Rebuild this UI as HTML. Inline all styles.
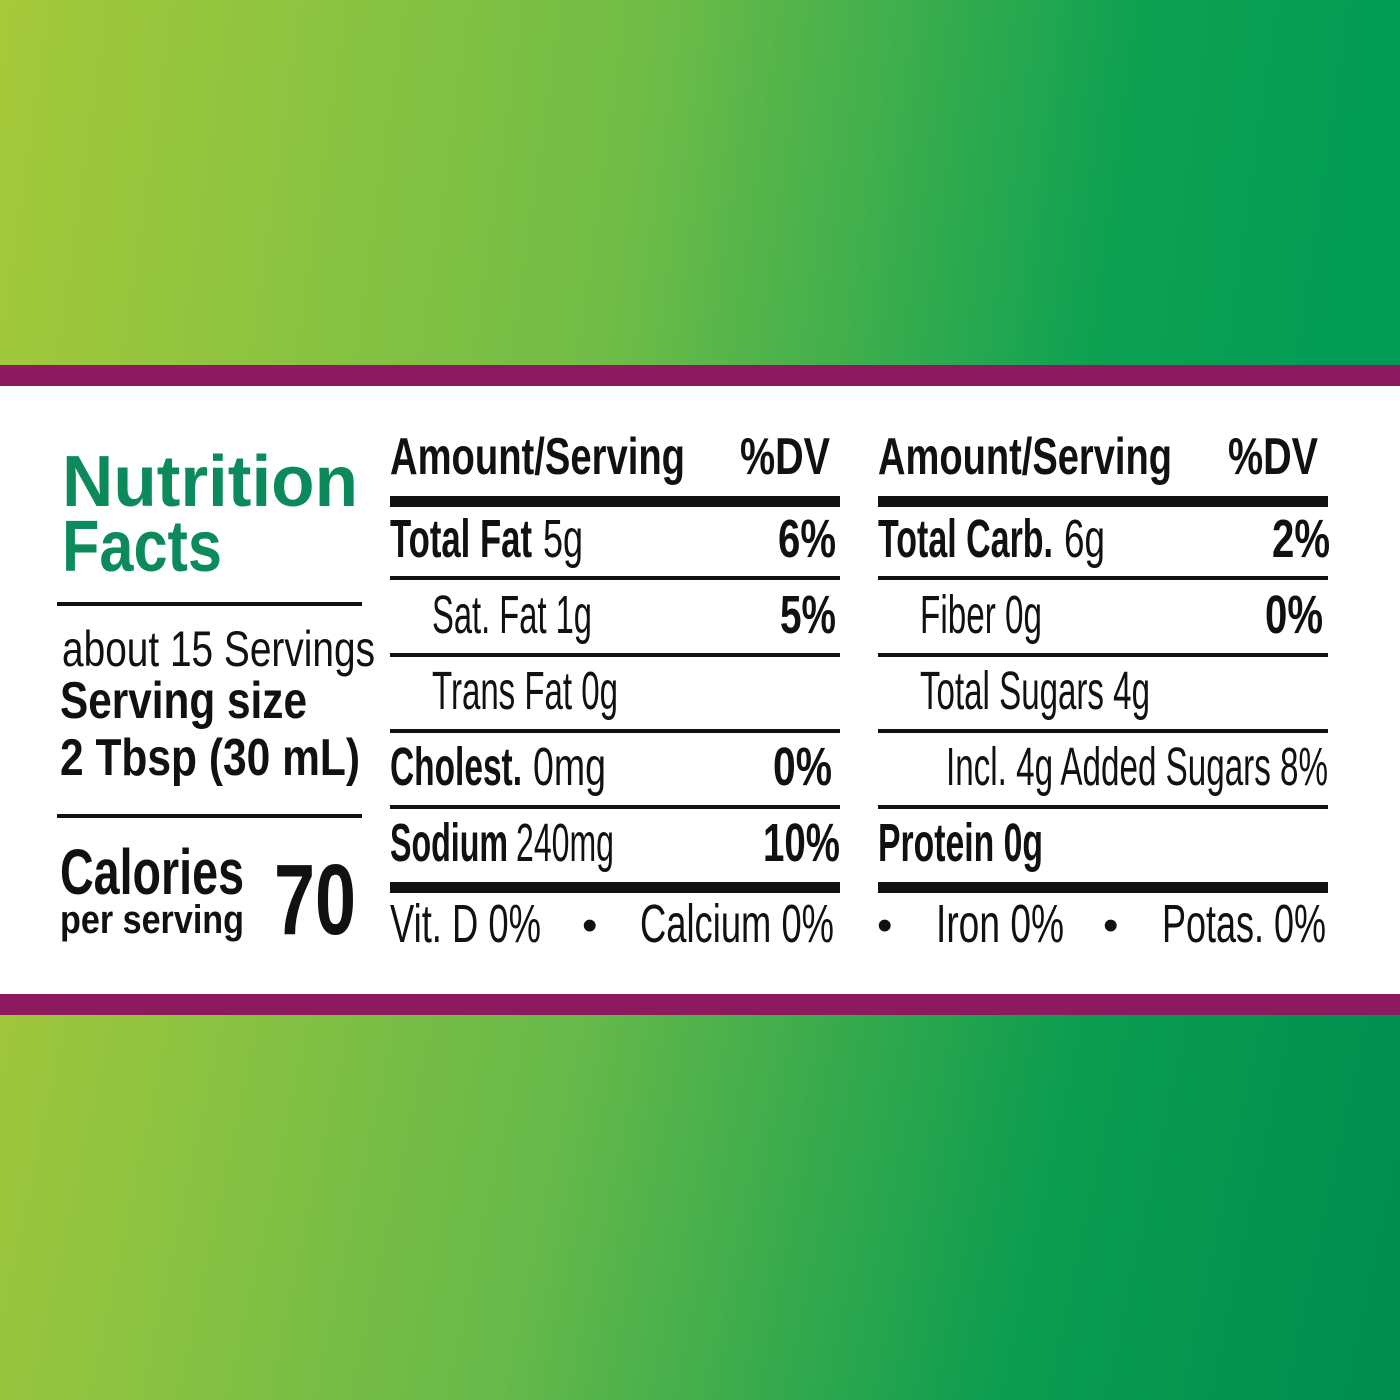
<!DOCTYPE html>
<html><head><meta charset="utf-8"><style>
html,body{margin:0;padding:0;width:1400px;height:1400px;overflow:hidden}
svg{display:block}
text{font-family:"Liberation Sans Narrow","Liberation Sans",sans-serif;fill:#111}
.b{font-weight:bold}
.g{fill:#0d8a5c;font-family:"Liberation Sans",sans-serif;font-weight:bold}
</style></head><body>
<svg width="1400" height="1400" viewBox="0 0 1400 1400" xmlns="http://www.w3.org/2000/svg">
<defs>
<linearGradient id="gt" x1="0" y1="0" x2="1400" y2="200" gradientUnits="userSpaceOnUse">
<stop offset="0" stop-color="#a5c93a"/><stop offset="0.45" stop-color="#72bd47"/><stop offset="0.8" stop-color="#0ea152"/><stop offset="1" stop-color="#009b55"/>
</linearGradient>
<linearGradient id="gb" x1="0" y1="1000" x2="1400" y2="1300" gradientUnits="userSpaceOnUse">
<stop offset="0" stop-color="#a0c73c"/><stop offset="0.4" stop-color="#66b94a"/><stop offset="0.75" stop-color="#0a9c50"/><stop offset="1" stop-color="#008e50"/>
</linearGradient>
</defs>
<rect x="0" y="0" width="1400" height="366" fill="url(#gt)"/>
<rect x="0" y="1014" width="1400" height="386" fill="url(#gb)"/>
<rect x="0" y="365" width="1400" height="21" fill="#8d1a5e"/>
<rect x="0" y="994" width="1400" height="21" fill="#8d1a5e"/>
<rect x="0" y="386" width="1400" height="608" fill="#fff"/>

<text class="g" x="62" y="506" font-size="72" textLength="296" lengthAdjust="spacingAndGlyphs">Nutrition</text>
<text class="g" x="62" y="571" font-size="72" textLength="160" lengthAdjust="spacingAndGlyphs">Facts</text>
<rect x="57" y="602" width="305" height="4" fill="#111"/>
<text x="62" y="666" font-size="50" textLength="313" lengthAdjust="spacingAndGlyphs">about 15 Servings</text>
<text class="b" x="60" y="718" font-size="52" textLength="247" lengthAdjust="spacingAndGlyphs">Serving size</text>
<text class="b" x="60" y="775" font-size="52" textLength="300" lengthAdjust="spacingAndGlyphs">2 Tbsp (30 mL)</text>
<rect x="57" y="814" width="305" height="4" fill="#111"/>
<text class="b" x="60" y="894" font-size="64" textLength="184" lengthAdjust="spacingAndGlyphs">Calories</text>
<text class="b" x="60" y="933" font-size="40" textLength="184" lengthAdjust="spacingAndGlyphs">per serving</text>
<text class="b" x="274" y="934" font-size="100" textLength="82" lengthAdjust="spacingAndGlyphs">70</text>

<!-- middle column -->
<g>
<text class="b" x="390" y="474" font-size="52" textLength="295" lengthAdjust="spacingAndGlyphs">Amount/Serving</text>
<text class="b" x="740" y="474" font-size="52" textLength="90" lengthAdjust="spacingAndGlyphs">%DV</text>
<rect x="390" y="496" width="450" height="11" fill="#111"/>
<text class="b" x="390" y="557" font-size="54" textLength="142" lengthAdjust="spacingAndGlyphs">Total Fat</text>
<text x="543" y="557" font-size="54" textLength="40" lengthAdjust="spacingAndGlyphs">5g</text>
<text class="b" x="778" y="557" font-size="54" textLength="58" lengthAdjust="spacingAndGlyphs">6%</text>
<rect x="390" y="576" width="450" height="4" fill="#111"/>
<text x="432" y="633" font-size="54" textLength="160" lengthAdjust="spacingAndGlyphs">Sat. Fat 1g</text>
<text class="b" x="780" y="633" font-size="54" textLength="56" lengthAdjust="spacingAndGlyphs">5%</text>
<rect x="390" y="653" width="450" height="4" fill="#111"/>
<text x="432" y="709" font-size="54" textLength="186" lengthAdjust="spacingAndGlyphs">Trans Fat 0g</text>
<rect x="390" y="729" width="450" height="4" fill="#111"/>
<text class="b" x="390" y="785" font-size="54" textLength="132" lengthAdjust="spacingAndGlyphs">Cholest.</text>
<text x="533" y="785" font-size="54" textLength="73" lengthAdjust="spacingAndGlyphs">0mg</text>
<text class="b" x="773" y="785" font-size="54" textLength="59" lengthAdjust="spacingAndGlyphs">0%</text>
<rect x="390" y="805" width="450" height="4" fill="#111"/>
<text class="b" x="390" y="861" font-size="54" textLength="118" lengthAdjust="spacingAndGlyphs">Sodium</text>
<text x="516" y="861" font-size="54" textLength="98" lengthAdjust="spacingAndGlyphs">240mg</text>
<text class="b" x="763" y="861" font-size="54" textLength="77" lengthAdjust="spacingAndGlyphs">10%</text>
<rect x="390" y="882" width="450" height="11" fill="#111"/>
<text x="390" y="942" font-size="54" textLength="151" lengthAdjust="spacingAndGlyphs">Vit. D 0%</text>
<text x="582" y="940" font-size="44">•</text>
<text x="640" y="942" font-size="54" textLength="194" lengthAdjust="spacingAndGlyphs">Calcium 0%</text>
</g>

<!-- right column -->
<g>
<text class="b" x="878" y="474" font-size="52" textLength="294" lengthAdjust="spacingAndGlyphs">Amount/Serving</text>
<text class="b" x="1228" y="474" font-size="52" textLength="90" lengthAdjust="spacingAndGlyphs">%DV</text>
<rect x="878" y="496" width="450" height="11" fill="#111"/>
<text class="b" x="878" y="557" font-size="54" textLength="175" lengthAdjust="spacingAndGlyphs">Total Carb.</text>
<text x="1064" y="557" font-size="54" textLength="41" lengthAdjust="spacingAndGlyphs">6g</text>
<text class="b" x="1272" y="557" font-size="54" textLength="58" lengthAdjust="spacingAndGlyphs">2%</text>
<rect x="878" y="576" width="450" height="4" fill="#111"/>
<text x="920" y="633" font-size="54" textLength="122" lengthAdjust="spacingAndGlyphs">Fiber 0g</text>
<text class="b" x="1265" y="633" font-size="54" textLength="58" lengthAdjust="spacingAndGlyphs">0%</text>
<rect x="878" y="653" width="450" height="4" fill="#111"/>
<text x="920" y="709" font-size="54" textLength="230" lengthAdjust="spacingAndGlyphs">Total Sugars 4g</text>
<rect x="878" y="729" width="450" height="4" fill="#111"/>
<text x="946" y="785" font-size="54" textLength="382" lengthAdjust="spacingAndGlyphs">Incl. 4g Added Sugars 8%</text>
<rect x="878" y="805" width="450" height="4" fill="#111"/>
<text class="b" x="878" y="861" font-size="54" textLength="165" lengthAdjust="spacingAndGlyphs">Protein 0g</text>
<rect x="878" y="882" width="450" height="11" fill="#111"/>
<text x="877" y="940" font-size="44">•</text>
<text x="936" y="942" font-size="54" textLength="128" lengthAdjust="spacingAndGlyphs">Iron 0%</text>
<text x="1103" y="940" font-size="44">•</text>
<text x="1162" y="942" font-size="54" textLength="164" lengthAdjust="spacingAndGlyphs">Potas. 0%</text>
</g>
</svg>
</body></html>
